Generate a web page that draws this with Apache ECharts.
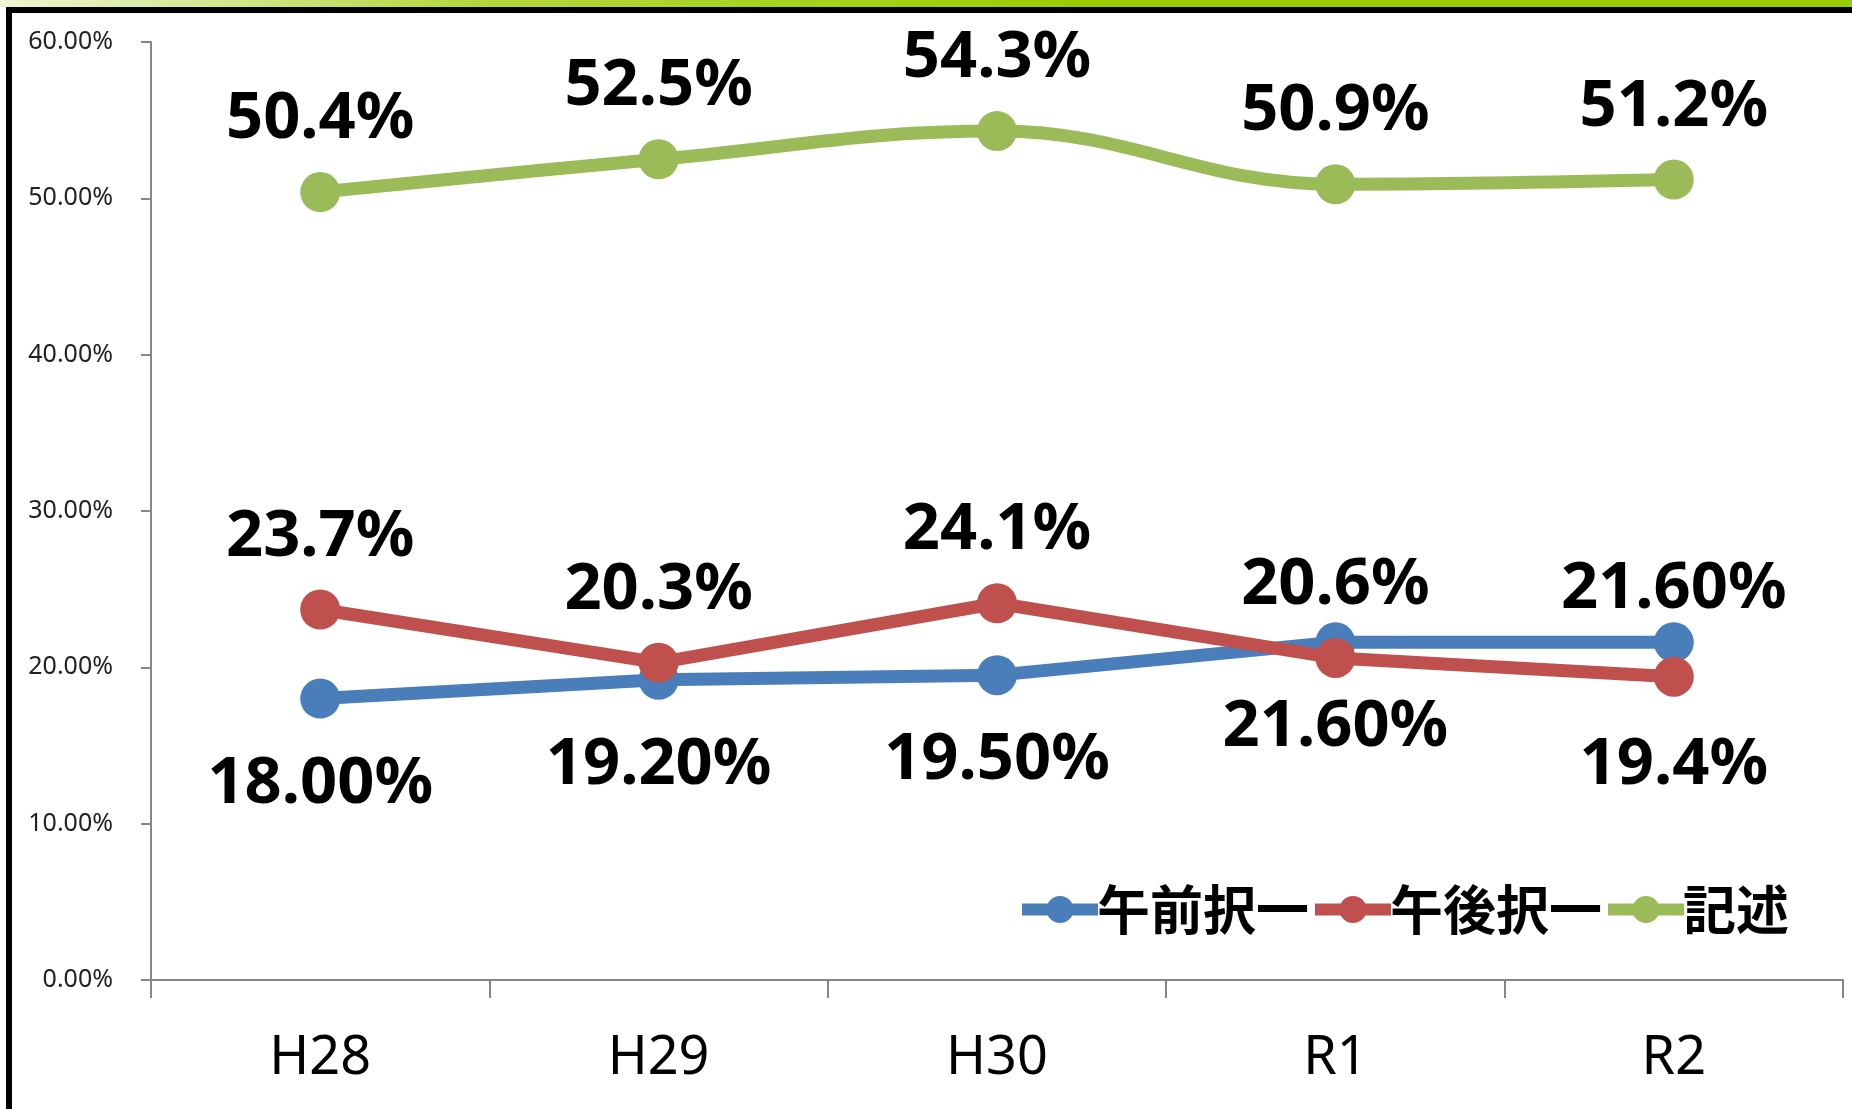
<!DOCTYPE html>
<html>
<head>
<meta charset="utf-8">
<title>択一・記述 推移</title>
<script src="https://cdn.jsdelivr.net/npm/echarts@6/dist/echarts.min.js"></script>
<style>
html, body { margin: 0; padding: 0; background: #fff; }
#main { position: absolute; left: 0; top: 0; width: 1852px; height: 1109px; }
.band {
    position: absolute; left: 0; top: 0; width: 1852px; height: 7px;
    background: linear-gradient(to right, #eef4d6 0%, #b6d640 25%, #99cc00 60%, #99cc00 100%);
}
.frame {
    position: absolute; left: 6px; top: 7px; width: 1846px; height: 1102px;
    border-top: 6px solid #000; border-left: 6px solid #000;
    box-sizing: border-box; pointer-events: none;
}
</style>
</head>
<body>
<div id="main"></div>
<div class="band"></div>
<div class="frame"></div>
<script>
// データ
var categories = ['H28', 'H29', 'H30', 'R1', 'R2'];
var seriesNames = ['午前択一', '午後択一', '記述'];
var amValues = [18.0, 19.2, 19.5, 21.6, 21.6];      // 午前択一
var pmValues = [23.7, 20.3, 24.1, 20.6, 19.4];      // 午後択一
var kijutsuValues = [50.4, 52.5, 54.3, 50.9, 51.2]; // 記述
var yMin = 0, yMax = 60, yStep = 10;

var colors = ['#4a7ebb', '#c0504d', '#9bbb59'];

var labelFont = {
    fontFamily: 'Noto Sans',
    fontWeight: 'bold',
    fontSize: 65,
    color: '#000'
};

// R2 だけラベルの上下が入れ替わる
function makeSeries(name, values, color, decimals, position, flipLast, smooth) {
    return {
        name: name,
        type: 'line',
        smooth: smooth,
        data: values.map(function (v, i) {
            var item = { value: v };
            if (flipLast && i === values.length - 1) {
                item.label = position === 'top'
                    ? { position: 'bottom', distance: 36 }
                    : { position: 'top', distance: 0 };
            }
            return item;
        }),
        symbol: 'circle',
        symbolSize: 40,
        lineStyle: { width: 13, color: color },
        itemStyle: { color: color },
        label: Object.assign({
            show: true,
            position: position,
            distance: position === 'top' ? 20 : 33,
            formatter: function (p) { return p.value.toFixed(decimals) + '%'; }
        }, labelFont),
        emphasis: { disabled: true },
        animation: false
    };
}

var chart = echarts.init(document.getElementById('main'));
chart.setOption({
    backgroundColor: '#fff',
    color: colors,
    grid: { left: 151, right: 9, top: 42, bottom: 129 },
    legend: {
        data: seriesNames,
        right: 58,
        top: 878,
        itemWidth: 76,
        itemHeight: 34,
        itemGap: 0,
        lineStyle: { width: 12 },
        textStyle: {
            fontFamily: 'Noto Sans CJK JP',
            fontWeight: 'bold',
            fontSize: 53,
            color: '#000',
            padding: [0, 0, 0, -6]
        }
    },
    xAxis: {
        type: 'category',
        data: categories,
        boundaryGap: true,
        axisLine: { lineStyle: { color: '#868686', width: 2 } },
        axisTick: { show: true, length: 18, lineStyle: { color: '#868686', width: 2 } },
        axisLabel: {
            fontFamily: 'Noto Sans',
            fontSize: 54,
            color: '#000',
            margin: 52
        }
    },
    yAxis: {
        type: 'value',
        min: yMin,
        max: yMax,
        interval: yStep,
        splitLine: { show: false },
        axisLine: { show: true, lineStyle: { color: '#868686', width: 2 } },
        axisTick: { show: true, length: 10, lineStyle: { color: '#868686', width: 2 } },
        axisLabel: {
            fontFamily: 'Noto Sans',
            fontSize: 25,
            color: '#222',
            margin: 38,
            formatter: function (v) { return v.toFixed(2) + '%'; }
        }
    },
    series: [
        makeSeries(seriesNames[0], amValues, colors[0], 2, 'bottom', true, false),
        makeSeries(seriesNames[1], pmValues, colors[1], 1, 'top', true, false),
        makeSeries(seriesNames[2], kijutsuValues, colors[2], 1, 'top', false, 0.4)
    ]
});
</script>
</body>
</html>
